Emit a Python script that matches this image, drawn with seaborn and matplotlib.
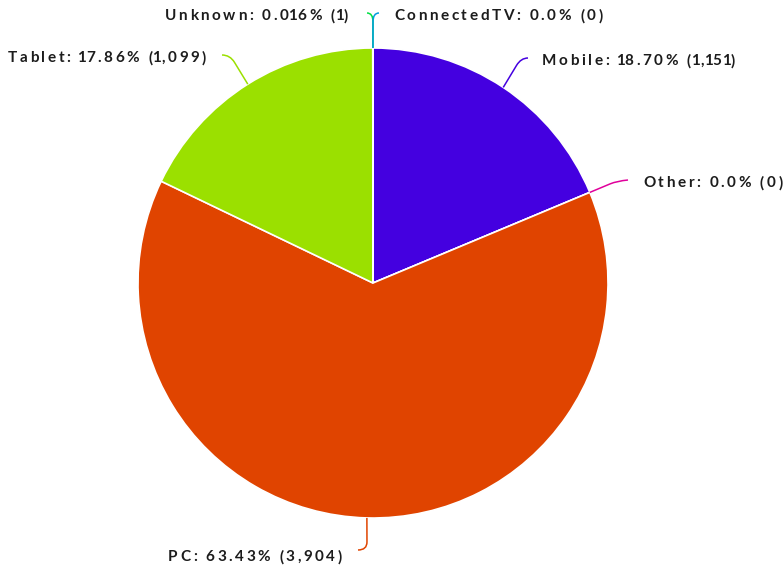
import numpy as np
import matplotlib
matplotlib.use("Agg")
import matplotlib.pyplot as plt
from matplotlib.path import Path
from matplotlib.patches import PathPatch
import seaborn as sns

# ---- data ----
categories = ["Mobile", "Other", "PC", "Tablet", "Unknown", "ConnectedTV"]
counts = [1151, 0, 3904, 1099, 1, 0]
colors = ["#4400e0", "#e0009b", "#e04400", "#9be000", "#00e044", "#009be0"]

# ---- label layout (pixel coordinates, y downward) ----
label_layout = {
    "Mobile":      dict(end=(528, 58),  corner=(521, 58),  text=(542, 61),  ha="left"),
    "Other":       dict(end=(628, 180), corner=(617, 181), text=(643, 183), ha="left"),
    "PC":          dict(end=(358, 550), corner=(367, 550), text=(342, 557), ha="right"),
    "Tablet":      dict(end=(222, 55),  corner=(230, 55),  text=(206, 58),  ha="right"),
    "Unknown":     dict(end=(367, 13),  corner=(373, 13),  text=(348, 16),  ha="right"),
    "ConnectedTV": dict(end=(379, 13),  corner=(373, 13),  text=(394, 16),  ha="left"),
}

sns.set_theme(style="white")
plt.rcParams["font.family"] = ["Lato", "DejaVu Sans"]

W, H = 784, 572
fig = plt.figure(figsize=(W / 100, H / 100), dpi=100)
ax = fig.add_axes([0, 0, 1, 1])

cx, cy, r = 373, 283, 235
wedges, _ = ax.pie(counts, colors=colors, startangle=-90, counterclock=True,
                   radius=r, center=(cx, cy), frame=True,
                   wedgeprops=dict(edgecolor="white", linewidth=1.2))
ax.set_xlim(0, W)
ax.set_ylim(H, 0)
ax.set_aspect("equal")
ax.axis("off")

total = sum(counts)


def fmt_pct(c):
    p = 100 * c / total
    if c == 0:
        return "0.0%"
    if p < 0.1:
        return f"{p:.3f}%"
    return f"{p:.2f}%"


renderer = fig.canvas.get_renderer()
FS = 11
SPACING = 2.6      # px tracking between letters
ONE_TRIM = 5.0     # narrow "1" glyph like the reference


def measure(s):
    t = fig.text(0, 0, s, fontsize=FS, fontweight="bold")
    w = t.get_window_extent(renderer).width
    t.remove()
    return w


SPACE_W = measure("a a") - measure("aa")


def spaced_text(x, y, s, ha):
    ws, offs = [], []
    for ch in s:
        if ch == " ":
            ws.append(SPACE_W); offs.append(0)
        elif ch == "1":
            ws.append(measure(ch) - ONE_TRIM); offs.append(-ONE_TRIM / 2)
        else:
            ws.append(measure(ch)); offs.append(0)
    total_w = sum(ws) + SPACING * (len(s) - 1)
    px = x if ha == "left" else x - total_w
    for ch, w, o in zip(s, ws, offs):
        if ch != " ":
            ax.text(px + o, y, ch, ha="left", va="center", fontsize=FS,
                    fontweight="bold", color="#1c1c1c")
        px += w + SPACING


for w, name, c, col in zip(wedges, categories, counts, colors):
    mid = np.deg2rad((w.theta1 + w.theta2) / 2)
    sx, sy = cx + r * np.cos(mid), cy + r * np.sin(mid)
    lay = label_layout[name]
    ex, ey = lay["end"]
    kx, ky = lay["corner"]
    p1 = (sx + 0.75 * (kx - sx), sy + 0.75 * (ky - sy))
    path = Path([(sx, sy), p1, (kx, ky), (ex, ey)],
                [Path.MOVETO, Path.LINETO, Path.CURVE3, Path.CURVE3])
    ax.add_patch(PathPatch(path, facecolor="none", edgecolor=col, lw=1.1, zorder=3))
    tx, ty = lay["text"]
    spaced_text(tx, ty, f"{name}: {fmt_pct(c)} ({c:,})", lay["ha"])

fig.savefig("out.png", dpi=100)
